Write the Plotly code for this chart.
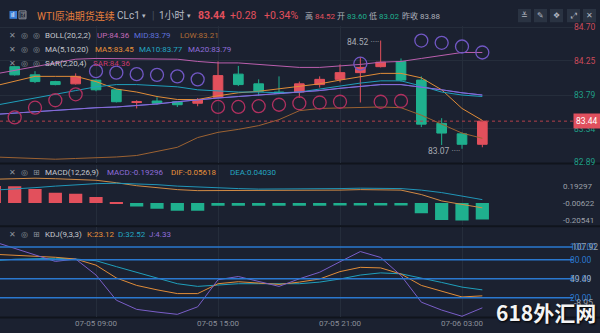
import plotly.graph_objects as go

# ---------------- data ----------------
times = ([f"2024-07-05 {h:02d}:00" for h in range(4, 24)] +
         [f"2024-07-06 {h:02d}:00" for h in range(0, 5)])

open_ = [84.04, 84.17, 84.06, 83.97, 83.94, 83.99, 83.86, 83.69, 83.71, 83.70, 83.68, 83.76, 84.07,
         83.94, 83.83, 83.83, 83.93, 84.00, 84.09, 84.17, 84.24, 83.99, 83.41, 83.27, 83.13]
high = [84.19, 84.18, 84.11, 83.98, 84.08, 84.00, 83.87, 83.72, 83.76, 83.70, 83.75, 84.24, 84.18,
        84.00, 84.04, 83.97, 84.04, 84.20, 84.30, 84.52, 84.28, 84.04, 83.48, 83.29, 83.45]
low = [84.03, 84.05, 83.95, 83.92, 83.93, 83.84, 83.69, 83.61, 83.66, 83.63, 83.64, 83.76, 83.91,
       83.78, 83.80, 83.75, 83.89, 83.96, 83.69, 84.16, 83.97, 83.36, 83.12, 83.07, 83.09]
close = [84.18, 84.06, 83.97, 83.93, 84.04, 83.86, 83.70, 83.70, 83.68, 83.66, 83.73, 84.05, 83.93,
         83.84, 83.81, 83.94, 84.00, 84.09, 84.16, 84.23, 83.99, 83.40, 83.28, 83.13, 83.44]

ma5 = [83.91, 83.98, 84.04, 84.04, 84.04, 83.97, 83.87, 83.83, 83.77, 83.73, 83.73, 83.78, 83.82,
       83.84, 83.87, 83.90, 83.94, 83.99, 84.04, 84.08, 84.08, 84.02, 83.86, 83.61, 83.45]
ma10 = [83.65, 83.70, 83.75, 83.81, 83.85, 83.90, 83.93, 83.93, 83.91, 83.90, 83.86, 83.84, 83.83,
        83.83, 83.82, 83.83, 83.87, 83.91, 83.95, 83.98, 83.98, 83.91, 83.83, 83.79, 83.77]
ma20 = [83.53, 83.55, 83.57, 83.59, 83.61, 83.62, 83.63, 83.65, 83.67, 83.70, 83.73, 83.75, 83.77,
        83.79, 83.81, 83.83, 83.85, 83.88, 83.91, 83.93, 83.93, 83.90, 83.86, 83.82, 83.79]
boll_up = [84.07, 84.12, 84.18, 84.23, 84.27, 84.28, 84.28, 84.28, 84.28, 84.27, 84.24, 84.22, 84.22,
           84.20, 84.18, 84.16, 84.16, 84.18, 84.20, 84.23, 84.24, 84.28, 84.32, 84.36, 84.36]
boll_mid = [83.53, 83.55, 83.57, 83.59, 83.61, 83.62, 83.63, 83.65, 83.67, 83.70, 83.73, 83.75, 83.77,
            83.79, 83.81, 83.83, 83.85, 83.88, 83.91, 83.93, 83.93, 83.90, 83.86, 83.82, 83.79]
boll_low = [82.96, 82.95, 82.94, 82.93, 82.94, 82.95, 82.96, 82.98, 83.03, 83.09, 83.22, 83.29, 83.33,
            83.38, 83.46, 83.58, 83.61, 83.62, 83.63, 83.63, 83.62, 83.52, 83.40, 83.28, 83.21]
sar = [None, 83.49, 83.62, 83.72, 83.80, 84.11, 84.09, 84.07, 84.06, 84.04, 84.00, 83.63, 83.63,
       83.64, 83.66, 83.68, 83.69, 83.70, 84.21, 83.70, 83.71, 84.52, 84.49, 84.44, 84.36]

macd_hist = [0.200, 0.197, 0.166, 0.120, 0.108, 0.072, 0.012, -0.040, -0.066, -0.090, -0.090, -0.032,
             -0.032, -0.032, -0.032, -0.032, -0.032, -0.030, -0.030, -0.030, -0.030, -0.120, -0.200,
             -0.205, -0.19296]
dif = [0.280, 0.286, 0.292, 0.286, 0.280, 0.268, 0.239, 0.204, 0.181, 0.158, 0.146, 0.146, 0.146,
       0.146, 0.146, 0.146, 0.146, 0.152, 0.158, 0.158, 0.152, 0.100, 0.025, -0.016, -0.05618]
dea = [0.152, 0.164, 0.181, 0.199, 0.216, 0.228, 0.233, 0.228, 0.216, 0.199, 0.187, 0.175, 0.170,
       0.164, 0.164, 0.164, 0.164, 0.170, 0.175, 0.175, 0.170, 0.152, 0.123, 0.082, 0.04030]

k_line = [88.4, 86.8, 86.0, 83.7, 80.9, 71.3, 51.2, 39.5, 32.6, 26.7, 26.7, 42.2, 45.3, 43.4, 41.1,
          44.7, 49.6, 61.2, 67.9, 67.0, 57.4, 39.5, 30.2, 21.4, 23.12]
d_line = [78.3, 80.6, 81.4, 82.2, 80.9, 78.3, 69.0, 59.7, 50.4, 42.2, 38.0, 40.6, 42.2, 42.2, 42.2,
          42.2, 44.7, 49.6, 55.8, 59.2, 57.7, 51.5, 44.2, 36.9, 32.52]
j_line = [107.92, 97.7, 86.7, 77.2, 80.9, 55.8, 16.3, 1.9, -2.3, -5.9, 5.9, 48.4, 53.5, 45.7, 38.0,
          49.9, 60.2, 76.7, 92.7, 83.4, 55.0, 13.2, 0.8, -8.95, 4.33]

tick_times = ["2024-07-05 09:00", "2024-07-05 15:00", "2024-07-05 21:00", "2024-07-06 03:00"]
tick_labels = ["07-05 09:00", "07-05 15:00", "07-05 21:00", "07-06 03:00"]
price_ticks = [84.70, 84.25, 83.79, 83.34, 82.89]
prev_close = 83.88
macd_ticks = [0.19297, -0.00622, -0.20541]
kdj_levels = [100, 80, 50, 20]
kdj_extra = [49.49]
kdj_max_label, kdj_min_label = 107.92, -8.95

# ---------------- styling ----------------
W, H = 600, 333
ML, MR, MT, MB = 0, 27, 0, 16
PW, PH = W - ML - MR, H - MT - MB
FONT = "Roboto, 'Noto Sans CJK SC', sans-serif"
BG = "#1b2130"
GRID = "#252d3b"
RED = "#e2505c"
GREEN = "#1fb08e"
AX_RED = "#c94a5a"
AX_GREEN = "#1f9e86"
GRAYTXT = "#9ba0a9"
C_UP, C_MID, C_LOW = "#bb5fae", "#5a6cd6", "#9c6232"
C_MA5, C_MA10, C_MA20 = "#e08c38", "#1f9fbb", "#8a6ad6"
C_SAR_BELOW, C_SAR_ABOVE = "#b0305f", "#7157c4"
C_K, C_D, C_J = "#e08c38", "#1f9fbb", "#7a5ec8"
BLUE_LVL = "#2a78cf"


def px(x):
    return (x - ML) / PW


def py(y):
    return 1 - (y - MT) / PH


xr = ["2024-07-05 04:16:41", "2024-07-06 08:27:33"]

fig = go.Figure()

# main panel
fig.add_trace(go.Candlestick(
    x=times, open=open_, high=high, low=low, close=close,
    increasing=dict(line=dict(color=RED, width=1), fillcolor=RED),
    decreasing=dict(line=dict(color=GREEN, width=1), fillcolor=GREEN),
    whiskerwidth=0, xaxis="x", yaxis="y", hoverinfo="skip"))
for vals, col in [(boll_up, C_UP), (boll_low, C_LOW), (boll_mid, C_MID),
                  (ma5, C_MA5), (ma10, C_MA10), (ma20, C_MA20)]:
    fig.add_trace(go.Scatter(x=times, y=vals, mode="lines", line=dict(color=col, width=1),
                             xaxis="x", yaxis="y", hoverinfo="skip"))
sar_colors = [C_SAR_ABOVE if (s is not None and s > c) else C_SAR_BELOW for s, c in zip(sar, close)]
fig.add_trace(go.Scatter(x=times, y=sar, mode="markers",
                         marker=dict(symbol="circle-open", size=13, color=sar_colors, line=dict(width=1.3)),
                         xaxis="x", yaxis="y", hoverinfo="skip"))

# MACD panel
fig.add_trace(go.Bar(x=times, y=macd_hist, marker=dict(color=[RED if v > 0 else GREEN for v in macd_hist],
                                                      line=dict(width=0)),
                     xaxis="x2", yaxis="y2", hoverinfo="skip"))
fig.add_trace(go.Scatter(x=times, y=dif, mode="lines", line=dict(color="#d08a45", width=1),
                         xaxis="x2", yaxis="y2", hoverinfo="skip"))
fig.add_trace(go.Scatter(x=times, y=dea, mode="lines", line=dict(color="#2196b8", width=1),
                         xaxis="x2", yaxis="y2", hoverinfo="skip"))

# KDJ panel
for vals, col in [(d_line, C_D), (k_line, C_K), (j_line, C_J)]:
    fig.add_trace(go.Scatter(x=times, y=vals, mode="lines", line=dict(color=col, width=1),
                             xaxis="x3", yaxis="y3", hoverinfo="skip"))

main_dom = [py(161), py(22)]
macd_dom = [py(224), py(163)]
kdj_dom = [0, py(226)]

xcommon = dict(type="date", range=xr, tickvals=tick_times, ticktext=tick_labels, showgrid=True,
               gridcolor=GRID, gridwidth=1, zeroline=False, showline=False, ticks="",
               domain=[0, 1], fixedrange=True)


def span(txt, col):
    return f'<span style="color:{col}">{txt}</span>'


fig.update_layout(
    width=W, height=H, margin=dict(l=ML, r=MR, t=MT, b=MB),
    paper_bgcolor=BG, plot_bgcolor=BG, showlegend=False,
    font=dict(family=FONT, color=GRAYTXT, size=8.5),
    bargap=0.35, boxgap=0.32, hovermode=False,
    xaxis=dict(**xcommon, anchor="y", showticklabels=False, rangeslider=dict(visible=False)),
    xaxis2=dict(**xcommon, anchor="y2", showticklabels=False, matches="x"),
    xaxis3=dict(**xcommon, anchor="y3", showticklabels=True, matches="x",
                tickfont=dict(size=8, color="#8a8f99")),
    yaxis=dict(domain=main_dom, anchor="x", side="right", range=[82.8798, 84.7185],
               tickvals=price_ticks,
               ticktext=[span(f"{v:.2f}", AX_RED if v > prev_close else AX_GREEN) for v in price_ticks],
               showgrid=True, gridcolor=GRID, zeroline=False, ticks="", tickfont=dict(size=8.5),
               fixedrange=True),
    yaxis2=dict(domain=macd_dom, anchor="x2", side="right", range=[-0.260, 0.448],
                tickvals=macd_ticks, ticktext=[f"{v:.5f}" for v in macd_ticks],
                showgrid=False, zeroline=False, ticks="", tickfont=dict(size=8, color=GRAYTXT),
                ticklabelstandoff=-11, fixedrange=True),
    yaxis3=dict(domain=kdj_dom, anchor="x3", side="right", range=[-10.08, 131.0],
                tickvals=kdj_levels + kdj_extra,
                ticktext=[span(f"{v:.2f}", BLUE_LVL) for v in kdj_levels] +
                         [span(f"{v:.2f}", GRAYTXT) for v in kdj_extra],
                showgrid=False, zeroline=False, ticks="", tickfont=dict(size=8.5),
                ticklabelstandoff=-4, fixedrange=True),
)

shapes = []
# current price dotted line
shapes.append(dict(type="line", xref="paper", x0=0, x1=1, yref="y", y0=close[-1], y1=close[-1],
                   line=dict(color="#b4404c", width=1, dash="dot")))
# KDJ levels
for lv in kdj_levels:
    shapes.append(dict(type="line", xref="paper", x0=0, x1=1, yref="y3", y0=lv, y1=lv,
                       line=dict(color=BLUE_LVL, width=1.5)))
# panel separators (below, so the axis labels stay readable)
for yy in [161.5, 225, 317.5]:
    shapes.append(dict(type="line", xref="paper", x0=px(0), x1=px(600), yref="paper", y0=py(yy), y1=py(yy),
                       layer="below", line=dict(color="#10141c", width=2)))
# header buttons
for x0, x1 in [(518, 531), (534, 547), (550, 563), (567, 580), (583, 596)]:
    shapes.append(dict(type="rect", xref="paper", yref="paper", x0=px(x0), x1=px(x1), y0=py(18.5), y1=py(5),
                       fillcolor="#2a3342", line=dict(width=0)))
# header left icons
shapes.append(dict(type="rect", xref="paper", yref="paper", x0=px(9.5), x1=px(17), y0=py(15), y1=py(7),
                   fillcolor="#3d7fd6", line=dict(width=0)))
shapes.append(dict(type="rect", xref="paper", yref="paper", x0=px(19), x1=px(26), y0=py(15), y1=py(7),
                   fillcolor="rgba(0,0,0,0)", line=dict(color="#8a8f99", width=1)))
fig.update_layout(shapes=shapes)

ann = []


def T(x, y, s, color, size=8, anchor="left", weight="normal", family=FONT):
    ann.append(dict(x=px(x), y=py(y), xref="paper", yref="paper", text=s, showarrow=False,
                    xanchor=anchor, yanchor="middle",
                    font=dict(color=color, size=size, family=family, weight=weight)))


# header
T(35, 12, "WTI原油期货连续", "#e47d3c", 10)
T(115, 12, "CLc1", "#b6bac2", 10)
T(140, 12, "▾", "#b6bac2", 7)
T(150, 12, "|", "#4a5160", 10)
T(157, 12, "1小时", "#b6bac2", 10)
T(185, 12, "▾", "#b6bac2", 7)
T(196, 12, f"{close[-1]:.2f}", RED, 10.5, weight="bold")
T(228, 12, "+0.28", RED, 10.5)
T(262, 12, "+0.34%", RED, 10.5)
T(303, 12.5, "高", "#aeb2ba", 8)
T(312.5, 12.5, f"{max(high):.2f}", RED, 8)
T(335, 12.5, "开", "#aeb2ba", 8)
T(344.5, 12.5, "83.60", GREEN, 8)
T(367, 12.5, "低", "#aeb2ba", 8)
T(376.5, 12.5, "83.02", GREEN, 8)
T(400, 12.5, "昨收", "#aeb2ba", 8)
T(418, 12.5, f"{prev_close:.2f}", "#aeb2ba", 8)
T(13.3, 11.5, "ıl", "#ffffff", 7, anchor="center")
T(22.5, 11, "团", "#8a8f99", 6, anchor="center")
for xc, g in [(524.5, "≚"), (540.5, "✎"), (556.5, "❖"), (573.5, "⤢"), (589.5, "✕")]:
    T(xc, 11.8, g, "#b0b6c0", 8, anchor="center", family="DejaVu Sans")

ICON = "#8d929b"
NAME = "#c5c8ce"


def legend_row(y, third, name, items):
    T(12.7, y, "✕", ICON, 8, anchor="center", family="DejaVu Sans")
    T(24, y, "◎", ICON, 8, anchor="center", family="DejaVu Sans")
    T(36.5, y, third, ICON, 8, anchor="center", family="DejaVu Sans")
    T(43, y, name, NAME, 8)
    for x, s, c in items:
        T(x, y, s, c, 8)


legend_row(32, "◎", "BOLL(20,2,2)", [(95, f"UP:{boll_up[-1]:.2f}", "#c46ab8"),
                                     (132, f"MID:{boll_mid[-1]:.2f}", "#5f72de"),
                                     (178, f"LOW:{boll_low[-1]:.2f}", "#b26d36")])
legend_row(46.5, "◎", "MA(5,10,20)", [(93, f"MA5:{ma5[-1]:.2f}", "#e8913a"),
                                      (137, f"MA10:{ma10[-1]:.2f}", "#24a6c2"),
                                      (186, f"MA20:{ma20[-1]:.2f}", "#8f6ddb")])
legend_row(60, "◎", "SAR(2,20,4)", [(91, f"SAR:{sar[-1]:.2f}", "#c83a6e")])
legend_row(171, "⊞", "MACD(12,26,9)", [(105, f"MACD:{macd_hist[-1]:.5f}", "#8f6ddb"),
                                       (169, f"DIF:{dif[-1]:.5f}", "#e8913a"),
                                       (228, f"DEA:{dea[-1]:.5f}", "#24a6c2")])
legend_row(233, "⊞", "KDJ(9,3,3)", [(85, f"K:{k_line[-1]:.2f}", "#e8913a"),
                                    (116, f"D:{d_line[-1]:.2f}", "#24a6c2"),
                                    (147, f"J:{j_line[-1]:.2f}", "#8f6ddb")])

# high / low markers
hi_i = high.index(max(high))
lo_i = low.index(min(low))
ann.append(dict(x=times[hi_i], y=high[hi_i], xref="x", yref="y", text=f"{high[hi_i]:.2f} ····",
                showarrow=False, xanchor="right", yanchor="middle", yshift=-1,
                font=dict(color="#a7abb3", size=8.5, family=FONT)))
ann.append(dict(x=times[lo_i], y=low[lo_i], xref="x", yref="y", text=f"{low[lo_i]:.2f} ····",
                showarrow=False, xanchor="right", yanchor="middle", yshift=-2,
                font=dict(color="#a7abb3", size=8.5, family=FONT)))

# current price tag
ann.append(dict(x=px(573), y=close[-1], xref="paper", yref="y", text=f"{close[-1]:.2f}",
                showarrow=False, xanchor="left", yanchor="middle", bgcolor="#e0505e",
                borderpad=2, font=dict(color="#ffffff", size=8.5, family=FONT)))

# KDJ extra labels
ann.append(dict(x=px(570), y=kdj_levels[0], xref="paper", yref="y3", text=f"{kdj_max_label:.2f}",
                showarrow=False, xanchor="left", yanchor="middle",
                font=dict(color=GRAYTXT, size=8.5, family=FONT)))
ann.append(dict(x=px(572), y=py(303), xref="paper", yref="paper", text=f"{kdj_min_label:.2f}",
                showarrow=False, xanchor="left", yanchor="middle",
                font=dict(color=GRAYTXT, size=8.5, family=FONT)))

# watermark
ann.append(dict(x=px(598), y=py(312), xref="paper", yref="paper", text="618外汇网", showarrow=False,
                xanchor="right", yanchor="middle",
                font=dict(color="#f4f4f4", size=21, family="'Noto Sans CJK SC', sans-serif",
                          weight="bold", shadow="1px 1px 2px #000000")))

fig.update_layout(annotations=ann)
fig.write_html("out.html", include_plotlyjs=True, full_html=True, config={"displayModeBar": False})
